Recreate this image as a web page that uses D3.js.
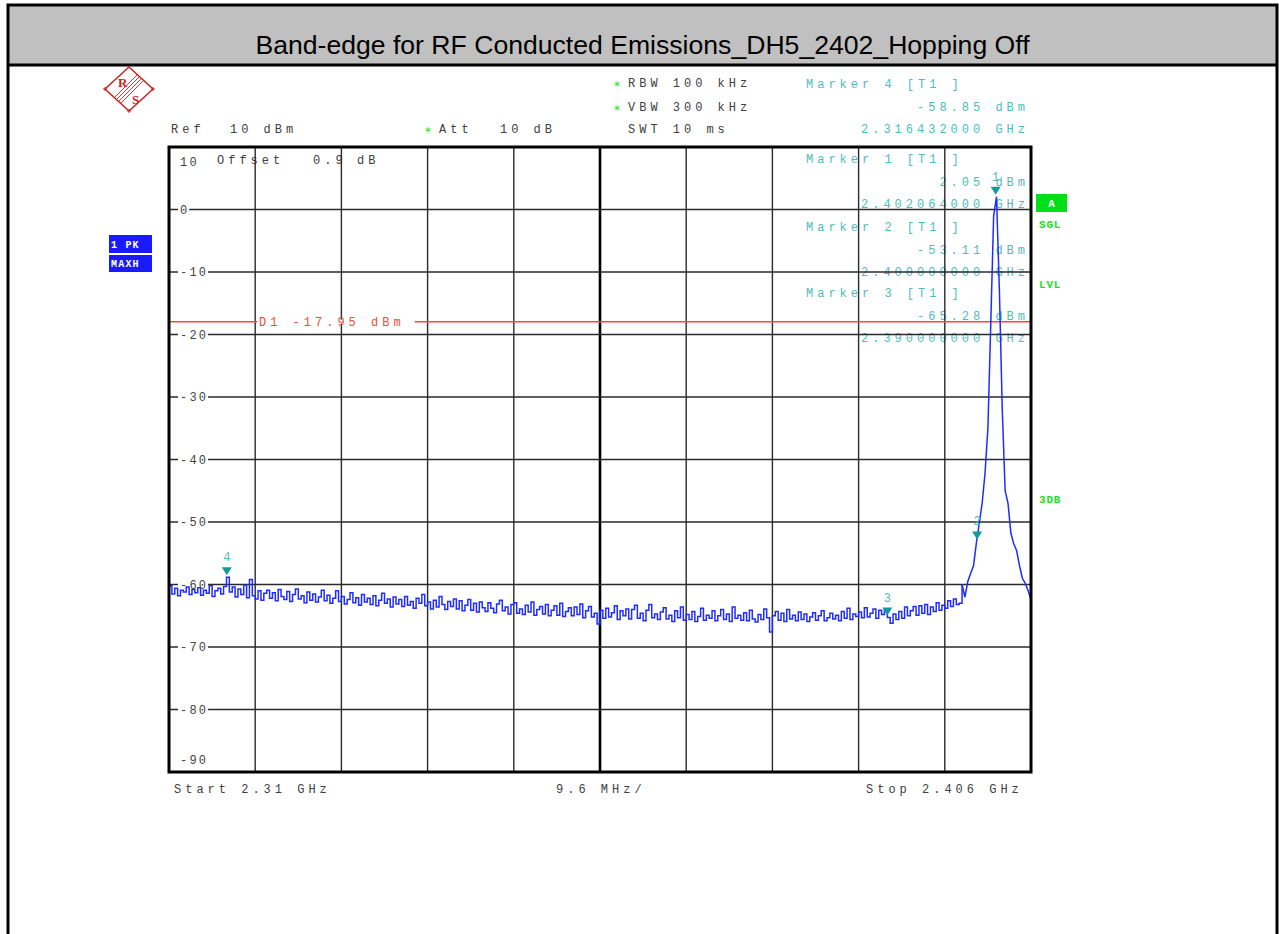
<!DOCTYPE html>
<html><head><meta charset="utf-8">
<script src="https://cdn.jsdelivr.net/npm/d3@7"></script>
<style>
body{margin:0;background:#fff;overflow:hidden;}
svg text{white-space:pre;}
</style></head><body>
<svg id="c" width="1279" height="934"></svg>
<script>
// ---------------- data ----------------
const title = "Band-edge for RF Conducted Emissions_DH5_2402_Hopping Off";
const startMHz = 2310, stopMHz = 2406, spanPerDivMHz = 9.6;
const levelTop = 10, levelBottom = -90;
const yTickValues = [10, 0, -10, -20, -30, -40, -50, -60, -70, -80, -90];
const yTickLabels = ["10", "0", "-10", "-20", "-30", "-40", "-50", "-60", "-70", "-80", "-90"];
const displayLineLevel = -17.95;
const displayLineLabel = "D1 -17.95 dBm";
const markerIds = [4, 1, 2, 3];
const markerFreqMHz = [2316.432, 2402.064, 2400.000, 2390.000];
const markerLevels = [-58.85, 2.05, -53.11, -65.28];
const bottomLabels = ["Start 2.31 GHz", "9.6 MHz/", "Stop 2.406 GHz"];
const traceLevels = [
 -60.2,-61.5,-60.6,-61.8,-60.9,-61.2,-60.4,-61.6,-60.8,-61.3,
 -60.5,-61.7,-60.9,-61.4,-60.2,-61.9,-61.0,-60.6,-61.5,-60.3,
 -58.85,-61.2,-60.4,-62.0,-60.7,-61.6,-60.1,-62.1,-59.2,-61.8,
 -62.3,-61.0,-62.5,-61.4,-60.9,-62.2,-61.3,-62.6,-60.8,-61.9,
 -62.4,-61.1,-62.7,-61.6,-60.7,-62.3,-61.8,-62.9,-61.2,-62.5,
 -61.5,-62.8,-62.0,-60.9,-62.6,-61.7,-63.0,-62.2,-61.0,-62.7,
 -61.9,-63.1,-62.4,-61.3,-62.9,-62.1,-63.3,-61.6,-62.8,-62.2,
 -63.2,-61.8,-63.4,-62.5,-61.4,-63.0,-62.3,-63.6,-62.0,-63.1,
 -62.4,-63.5,-61.9,-63.3,-62.7,-63.8,-62.2,-63.0,-61.6,-63.4,
 -62.8,-63.9,-62.5,-63.6,-61.9,-63.2,-64.0,-62.7,-63.5,-62.3,
 -63.9,-62.6,-64.2,-63.3,-62.4,-64.1,-63.0,-64.4,-62.8,-63.7,
 -64.3,-62.9,-63.8,-64.5,-63.1,-62.5,-64.2,-63.6,-64.7,-63.2,
 -62.9,-64.6,-63.9,-64.8,-63.3,-64.4,-62.8,-64.9,-64.0,-63.5,
 -64.7,-63.2,-65.0,-64.1,-63.4,-64.9,-63.0,-65.1,-64.3,-63.7,
 -65.0,-63.6,-64.8,-63.1,-65.3,-64.2,-63.5,-65.2,-64.6,-66.3,
 -64.1,-65.4,-63.8,-65.2,-64.5,-63.4,-65.6,-64.2,-65.0,-63.9,
 -65.5,-64.0,-63.3,-65.4,-64.6,-65.8,-64.1,-63.2,-65.3,-64.7,
 -65.6,-64.4,-63.7,-65.5,-64.9,-65.9,-64.2,-65.3,-63.6,-65.7,
 -64.8,-65.6,-64.3,-65.9,-65.1,-63.8,-65.7,-64.9,-65.4,-64.2,
 -65.8,-65.0,-64.0,-65.6,-64.7,-65.9,-63.6,-65.4,-64.9,-65.7,
 -64.5,-65.8,-64.1,-65.5,-66.0,-64.8,-65.6,-63.9,-65.3,-67.6,
 -65.0,-64.3,-65.7,-64.6,-65.9,-64.0,-65.5,-64.9,-65.8,-64.4,
 -65.6,-64.7,-65.9,-65.2,-64.5,-65.7,-65.0,-64.2,-65.8,-65.3,
 -64.6,-65.5,-64.9,-65.8,-64.3,-65.4,-63.8,-65.6,-64.7,-65.1,
 -64.4,-65.3,-63.7,-65.2,-64.6,-63.9,-65.4,-64.1,-64.8,-64.0,
 -65.28,-66.2,-64.7,-65.6,-64.3,-65.4,-63.6,-65.0,-64.2,-63.5,
 -64.9,-63.4,-64.6,-63.2,-64.8,-63.6,-64.3,-62.9,-64.1,-63.3,
 -63.8,-62.6,-63.5,-62.3,-63.2,
 -63.0,-60.0,-62.0,-59.5,-58.2,-57.0,-53.3,-50.2,-47.0,-42.2,
 -35.0,-18.2,-1.0,2.05,-13.0,-32.0,-45.0,-47.0,-51.8,-53.5,
 -54.6,-57.0,-59.0,-59.8,-61.0,-62.4
];

// ---------------- drawing ----------------
const svg = d3.select("#c");
const MONO = "'Liberation Mono','DejaVu Sans Mono',monospace";
const LS = 4.0;
const greyTxt = "#404040", cyanTxt = "#4cbdbd", markTri = "#129a9a", red = "#f24a3c", green = "#22dd22", blue = "#1f2cff";

const L = 169, R = 1031, T = 147, B = 772;
const x = d3.scaleLinear().domain([startMHz, stopMHz]).range([L, R]);
const y = d3.scaleLinear().domain([levelBottom, levelTop]).range([B, T]);

// outer frame & title bar
svg.append("rect").attr("x", 8).attr("y", 5).attr("width", 1269).attr("height", 60).attr("fill", "#c0c0c0");
svg.append("rect").attr("x", 8).attr("y", 5).attr("width", 1269).attr("height", 945)
  .attr("fill", "none").attr("stroke", "#000").attr("stroke-width", 3);
svg.append("line").attr("x1", 8).attr("x2", 1277).attr("y1", 65).attr("y2", 65).attr("stroke", "#000").attr("stroke-width", 3);
svg.append("text").attr("x", 642.5).attr("y", 54).attr("text-anchor", "middle")
  .attr("font-family", "'Liberation Sans',Arial,sans-serif").attr("font-size", 26.6).attr("fill", "#000").text(title);

// R&S logo
const logo = svg.append("g").attr("transform", "translate(129,89)");
logo.append("path").attr("d", "M0,-22 L24,0 L0,22 L-24,0 Z").attr("fill", "#fff").attr("stroke", "#cc2222").attr("stroke-width", 1.5);
[[-24,0],[24,0],[0,22]].forEach(p => logo.append("circle").attr("cx", p[0]).attr("cy", p[1]).attr("r", 1.3).attr("fill", "none").attr("stroke", "#cc2222").attr("stroke-width", 0.8));
[-3, -1, 1, 3].forEach(o => logo.append("line").attr("x1", 12 + o).attr("y1", -12 + o).attr("x2", -12 + o).attr("y2", 12 + o)
  .attr("stroke", "#cc2222").attr("stroke-width", 0.9));
logo.append("text").attr("x", -11).attr("y", -2).attr("font-family", "'Liberation Serif',serif").attr("font-weight", "bold")
  .attr("font-size", 13).attr("fill", "#cc2222").text("R");
logo.append("text").attr("x", 3).attr("y", 15).attr("font-family", "'Liberation Serif',serif").attr("font-weight", "bold")
  .attr("font-size", 13).attr("fill", "#cc2222").text("S");

function mono(sel, str, xx, cy, color, ls) {
  return sel.append("text").attr("x", xx).attr("y", cy + 4.3).attr("font-family", MONO).attr("font-size", 12)
    .attr("letter-spacing", ls === undefined ? LS : ls).attr("fill", color || greyTxt).text(str);
}
function star(xx, cy) {
  svg.append("text").attr("x", xx).attr("y", cy + 6.5).attr("font-family", "'DejaVu Sans',sans-serif").attr("font-size", 12)
    .attr("fill", green).text("*");
}

// header setup text
mono(svg, "Ref", 171, 129);
mono(svg, "10 dBm", 230, 129);
star(425, 129); mono(svg, "Att", 439, 129);
mono(svg, "10 dB", 500, 129);
star(614, 83); mono(svg, "RBW 100 kHz", 628, 83);
star(614, 107); mono(svg, "VBW 300 kHz", 628, 107);
mono(svg, "SWT 10 ms", 628, 129);

// plot background
svg.append("rect").attr("x", L).attr("y", T).attr("width", R - L).attr("height", B - T).attr("fill", "#fff");

// marker info block
const rowStarts = [84, 159, 227, 293];
markerIds.forEach((id, k) => {
  const c = rowStarts[k];
  const lvl = markerLevels[k].toFixed(2) + " dBm";
  const fr = (markerFreqMHz[k] / 1000).toFixed(9) + " GHz";
  mono(svg, "Marker " + id + " [T1 ]", 806, c, cyanTxt);
  mono(svg, lvl, 1025 - (lvl.length - 1) * (7.2 + LS) - 7.2, c + 22.5, cyanTxt);
  mono(svg, fr, 1025 - (fr.length - 1) * (7.2 + LS) - 7.2, c + 45, cyanTxt);
});

// offset text
mono(svg, "Offset", 217, 160);
mono(svg, "0.9", 313, 160);
mono(svg, "dB", 357, 160);

// grid
const grid = svg.append("g");
const xTicks = d3.range(0, 11).map(i => startMHz + i * spanPerDivMHz);
xTicks.slice(1, 10).forEach((f, i) => {
  grid.append("line").attr("x1", x(f)).attr("x2", x(f)).attr("y1", T).attr("y2", B)
    .attr("stroke", i === 4 ? "#000" : "#2a2a2a").attr("stroke-width", i === 4 ? 2.6 : 1.4);
});
yTickValues.slice(1, 10).forEach(v => {
  grid.append("line").attr("x1", L).attr("x2", R).attr("y1", y(v)).attr("y2", y(v))
    .attr("stroke", "#2a2a2a").attr("stroke-width", 1.4);
});

// y labels with white backing
const ylab = svg.append("g");
const yLS = 2.2;
yTickValues.forEach((v, i) => {
  let cy = y(v);
  if (i === 0) cy = 162;
  if (i === yTickValues.length - 1) cy = 760;
  const t = mono(ylab, yTickLabels[i], 180, cy, "#444", yLS);
  if (i > 0 && i < yTickValues.length - 1) {
    const bb = t.node().getBBox();
    ylab.insert("rect", "text").attr("x", bb.x - 2).attr("y", cy - 2).attr("width", bb.width - yLS + 4).attr("height", 4).attr("fill", "#fff");
  }
});

// display line D1
const dy = y(displayLineLevel);
svg.append("line").attr("x1", L).attr("x2", R).attr("y1", dy).attr("y2", dy).attr("stroke", red).attr("stroke-width", 1.6);
const dl = svg.append("g");
const dlt = mono(dl, displayLineLabel, 259, dy, red);
const dbb = dlt.node().getBBox();
dl.insert("rect", "text").attr("x", 257).attr("y", dy - 2).attr("width", dbb.width + 12).attr("height", 4).attr("fill", "#fff");

// trace: noise part drawn as max-hold steps, carrier part as linear segments
const n = traceLevels.length;
const traceFreq = d3.range(n).map(i => startMHz + i * (stopMHz - startMHz) / (n - 1));
const pts = traceLevels.map((v, i) => [traceFreq[i], v]);
const splitAt = 276;
const stepLine = d3.line().x(d => x(d[0])).y(d => y(d[1])).curve(d3.curveStepAfter);
const linLine = d3.line().x(d => x(d[0])).y(d => y(d[1])).curve(d3.curveLinear);
svg.append("path").datum(pts.slice(0, splitAt + 1)).attr("d", stepLine).attr("fill", "none")
  .attr("stroke", blue).attr("stroke-width", 1.5);
svg.append("path").datum(pts.slice(splitAt)).attr("d", linLine).attr("fill", "none")
  .attr("stroke", blue).attr("stroke-width", 1.5);

// markers
markerIds.forEach((id, k) => {
  const mx = x(markerFreqMHz[k]), my = y(markerLevels[k]);
  svg.append("path").attr("d", `M${mx - 5},${my - 10} L${mx + 5},${my - 10} L${mx},${my - 2} Z`).attr("fill", markTri);
  svg.append("text").attr("x", mx).attr("y", my - 16).attr("text-anchor", "middle").attr("font-family", MONO)
    .attr("font-size", 12).attr("fill", cyanTxt).text(String(id));
});

// plot border
svg.append("rect").attr("x", L).attr("y", T).attr("width", R - L).attr("height", B - T)
  .attr("fill", "none").attr("stroke", "#000").attr("stroke-width", 3);

// bottom labels
mono(svg, bottomLabels[0], 174, 789);
mono(svg, bottomLabels[1], 556, 789);
mono(svg, bottomLabels[2], 866, 789);

// left trace status boxes
[["1 PK", 235, 18], ["MAXH", 255, 17]].forEach(b => {
  svg.append("rect").attr("x", 109).attr("y", b[1]).attr("width", 43).attr("height", b[2]).attr("fill", "#1a1aff");
  svg.append("text").attr("x", 111).attr("y", b[1] + b[2] / 2 + 3.5).attr("font-family", MONO).attr("font-weight", "bold")
    .attr("font-size", 10).attr("letter-spacing", 1.2).attr("fill", "#fff").text(b[0]);
});

// right status labels
svg.append("rect").attr("x", 1036).attr("y", 194).attr("width", 31).attr("height", 18).attr("fill", "#00e01a");
svg.append("text").attr("x", 1051.5).attr("y", 207).attr("text-anchor", "middle").attr("font-family", MONO)
  .attr("font-weight", "bold").attr("font-size", 11).attr("fill", "#fff").text("A");
[["SGL", 224], ["LVL", 284], ["3DB", 499]].forEach(s => {
  svg.append("text").attr("x", 1039).attr("y", s[1] + 4).attr("font-family", MONO).attr("font-weight", "bold")
    .attr("font-size", 11).attr("letter-spacing", 0.8).attr("fill", green).text(s[0]);
});
</script>
</body></html>
